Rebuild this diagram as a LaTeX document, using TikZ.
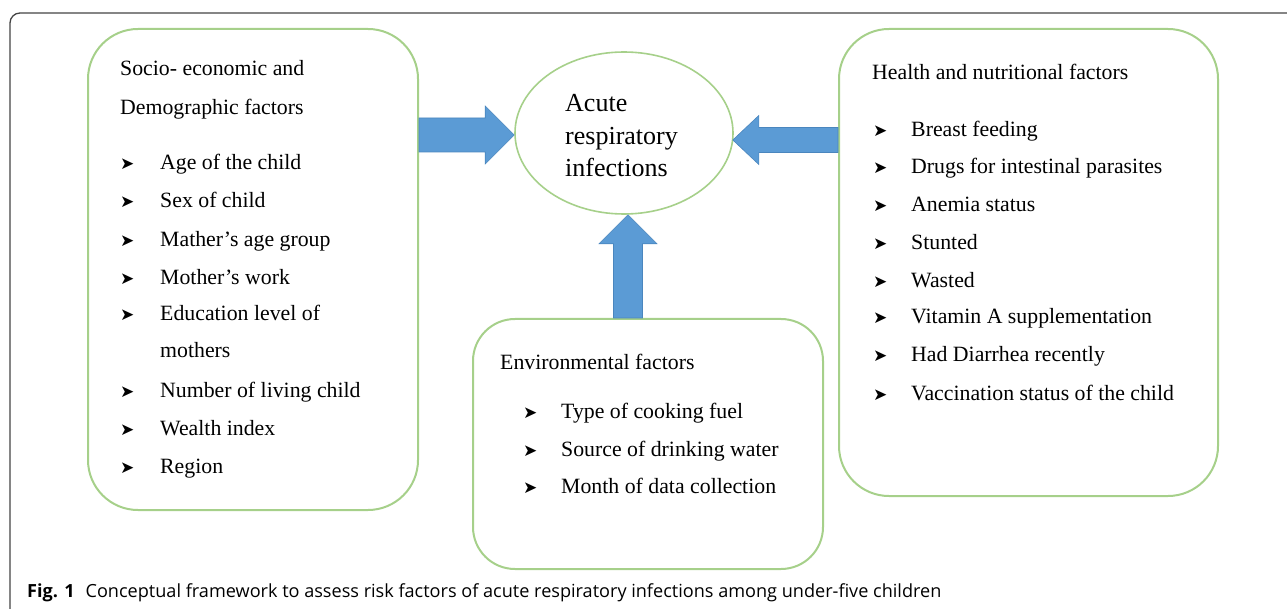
\documentclass[tikz,border=0pt]{standalone}
\usepackage{fontspec}
\setmainfont{Liberation Serif}
\newfontfamily\bulfont{DejaVu Sans}
\newfontfamily\capfont{Open Sans}
\usetikzlibrary{shapes.geometric,calc}
\definecolor{boxgreen}{HTML}{A6D08A}
\definecolor{arrblue}{HTML}{5B9BD5}
\definecolor{arredge}{HTML}{4A86BE}
\definecolor{framegray}{HTML}{444444}
\tikzset{
  fbox/.style={draw=boxgreen, line width=2pt, rectangle, anchor=north west, inner sep=0pt},
  txt/.style={anchor=base west, inner sep=0pt, font=\fontsize{21.8}{24}\selectfont},
  bul/.style={anchor=base west, inner sep=0pt, font=\bulfont\fontsize{17}{20}\selectfont},
  arr/.style={fill=arrblue, draw=arredge, line width=0.6pt},
}
\begin{document}
\begin{tikzpicture}[x=1pt,y=-1pt]
\useasboundingbox (0,0) rectangle (1287,609);
% outer frame
\draw[framegray, line width=1.3pt, rounded corners=10pt] (1300,13) -- (10,13) -- (10,620);
% boxes
\node[fbox, rounded corners=50pt, minimum width=330pt, minimum height=481pt] (soc) at (87,28) {};
\node[fbox, rounded corners=50pt, minimum width=379pt, minimum height=467pt] (hlt) at (838,28) {};
\node[fbox, rounded corners=42pt, minimum width=350pt, minimum height=250pt] (env) at (472,318) {};
\node[draw=boxgreen, line width=1.6pt, ellipse, minimum width=218pt, minimum height=162pt, inner sep=0pt] (ari) at (624,133) {};
% ellipse text
\node[txt, font=\fontsize{26}{28}\selectfont] (a1) at (565,112) {Acute};
\node[txt, font=\fontsize{26}{28}\selectfont] (a2) at (565,145) {respiratory};
\node[txt, font=\fontsize{26}{28}\selectfont] (a3) at (565,177) {infections};
% left box text
\node[txt] (s0) at (120,76) {Socio- economic and};
\node[txt] (s00) at (120,115) {Demographic factors};
\node[bul] (sb1) at (120,170) {➤}; \node[txt] (s1) at (160,170) {Age of the child};
\node[bul] (sb2) at (120,208) {➤}; \node[txt] (s2) at (160,208) {Sex of child};
\node[bul] (sb3) at (120,247) {➤}; \node[txt] (s3) at (160,247) {Mather’s age group};
\node[bul] (sb4) at (120,285) {➤}; \node[txt] (s4) at (160,285) {Mother’s work};
\node[bul] (sb5) at (120,321) {➤}; \node[txt] (s5) at (160,321) {Education level of};
\node[txt] (s5b) at (160,358) {mothers};
\node[bul] (sb6) at (120,397) {➤}; \node[txt] (s6) at (160,397) {Number of living child};
\node[bul] (sb7) at (120,435) {➤}; \node[txt] (s7) at (160,435) {Wealth index};
\node[bul] (sb8) at (120,473) {➤}; \node[txt] (s8) at (160,473) {Region};
% right box text
\node[txt] (h0) at (872,80) {Health and nutritional factors};
\node[bul] (hb1) at (873,137) {➤}; \node[txt] (h1) at (911,137) {Breast feeding};
\node[bul] (hb2) at (873,174) {➤}; \node[txt] (h2) at (911,174) {Drugs for intestinal parasites};
\node[bul] (hb3) at (873,212) {➤}; \node[txt] (h3) at (911,212) {Anemia status};
\node[bul] (hb4) at (873,250) {➤}; \node[txt] (h4) at (911,250) {Stunted};
\node[bul] (hb5) at (873,288) {➤}; \node[txt] (h5) at (911,288) {Wasted};
\node[bul] (hb6) at (873,324) {➤}; \node[txt] (h6) at (911,324) {Vitamin A supplementation};
\node[bul] (hb7) at (873,362) {➤}; \node[txt] (h7) at (911,362) {Had Diarrhea recently};
\node[bul] (hb8) at (873,400) {➤}; \node[txt] (h8) at (911,400) {Vaccination status of the child};
% environmental box text
\node[txt] (e0) at (500,370) {Environmental factors};
\node[bul] (eb1) at (523,418) {➤}; \node[txt] (e1) at (561,418) {Type of cooking fuel};
\node[bul] (eb2) at (523,456) {➤}; \node[txt] (e2) at (561,456) {Source of drinking water};
\node[bul] (eb3) at (523,493) {➤}; \node[txt] (e3) at (561,493) {Month of data collection};
% block arrows
\coordinate (lt) at ($(ari.west)+(0,2)$);
\coordinate (lb) at (soc.east |- lt);
\draw[arr] ($(lb)+(0,-17)$) -- ($(lt)+(-29,-17)$) -- ($(lt)+(-29,-29)$) -- (lt)
  -- ($(lt)+(-29,29)$) -- ($(lt)+(-29,17)$) -- ($(lb)+(0,17)$) -- cycle;
\coordinate (rt) at ($(ari.east)+(-1,7)$);
\coordinate (rb) at (hlt.west |- rt);
\draw[arr] ($(rb)+(0,-12.5)$) -- ($(rt)+(26,-12.5)$) -- ($(rt)+(26,-24.5)$) -- (rt)
  -- ($(rt)+(26,24.5)$) -- ($(rt)+(26,12.5)$) -- ($(rb)+(0,12.5)$) -- cycle;
\coordinate (ut) at ($(ari.south)+(4,0)$);
\coordinate (ub) at (ut |- env.north);
\draw[arr] ($(ub)+(-14.5,0)$) -- ($(ut)+(-14.5,29)$) -- ($(ut)+(-29,29)$) -- (ut)
  -- ($(ut)+(29,29)$) -- ($(ut)+(14.5,29)$) -- ($(ub)+(14.5,0)$) -- cycle;
% caption
\node[anchor=base west, inner sep=0pt, font=\capfont\fontsize{18.1}{22}\selectfont] (cap) at (27,597)
  {\textbf{Fig. 1}\hspace{11pt}Conceptual framework to assess risk factors of acute respiratory infections among under-five children};
\end{tikzpicture}
\end{document}
